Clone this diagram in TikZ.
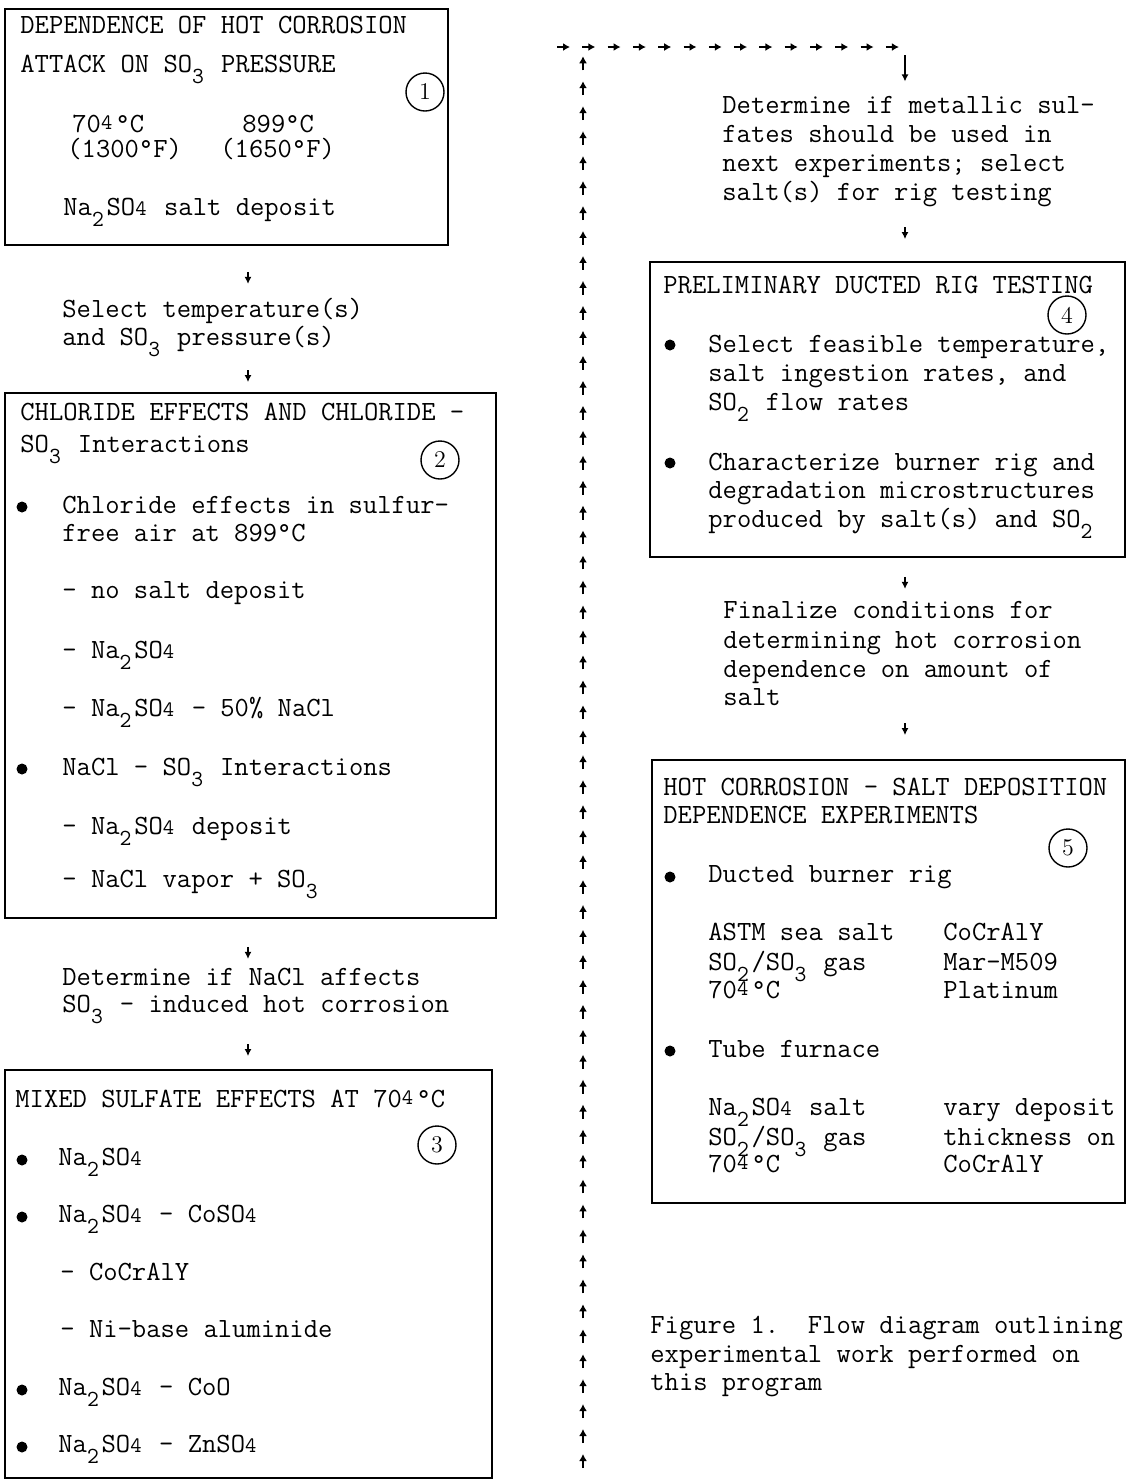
\documentclass[tikz,border=0pt]{standalone}
\usetikzlibrary{arrows.meta,fit,calc}
\newcommand\lowd[1]{\makebox[0.525em][l]{\raisebox{-5.5pt}{\fontsize{11.5}{11.5}\selectfont #1}}}
\newcommand\fsm{\makebox[0.525em][l]{\fontsize{11}{11}\selectfont 4}}
\newcommand\fup{\makebox[0.525em][l]{\raisebox{1.5pt}{\fontsize{11}{11}\selectfont 4}}}
\newcommand\dg{\textdegree}
\begin{document}
\begin{tikzpicture}[x=0.5pt,y=-0.5pt,
  txt/.style={anchor=base west, inner sep=0pt, font=\fontsize{13.9}{14.5}\selectfont\ttfamily},
  boxst/.style={draw, line width=0.9pt, inner sep=0pt},
  dotst/.style={circle, fill=black, inner sep=0pt, minimum size=5.5pt},
  numc/.style={circle, draw, line width=0.7pt, inner sep=0pt, minimum size=19pt, font=\fontsize{12}{12}\selectfont\rmfamily},
  smallarr/.style={line width=1pt, -{Latex[length=3.5pt,width=3.5pt]}},
  tinyarr/.style={line width=1.1pt, -{Latex[length=3.5pt,width=4pt]}}
]
\useasboundingbox (0,0) rectangle (1126,1480);
\clip (0,0) rectangle (1126,1480);

% ---------- boxes ----------
\node[boxst, fit={(5,9) (448,245)}] (b1) {};
\node[boxst, fit={(5,393) (496,918)}] (b2) {};
\node[boxst, fit={(5,1070) (492,1478)}] (b3) {};
\node[boxst, fit={(650,262) (1125,557)}] (b4) {};
\node[boxst, fit={(652,760) (1125,1203)}] (b5) {};

% ---------- box 1 ----------
\node[txt] (h1a) at (20,33) {DEPENDENCE OF HOT CORROSION};
\node[txt] (h1b) at (20,72) {ATTACK ON SO\lowd{3} PRESSURE};
\node[numc] (n1) at (425,92) {1};
\node[txt] (t1c) at (72,132) {70\fup\dg C};
\node[txt] (t1d) at (242,132) {899\dg C};
\node[txt] (t1e) at (67,157) {(1300\dg F)};
\node[txt] (t1f) at (220,157) {(1650\dg F)};
\node[txt] (t1g) at (63,215) {Na\lowd{2}SO\fsm{} salt deposit};

% ---------- between 1 and 2 ----------
\node[txt] (sA1) at (62,317) {Select temperature(s)};
\node[txt] (sA2) at (62,345) {and SO\lowd{3} pressure(s)};

% ---------- box 2 ----------
\node[txt] (h2a) at (20,420) {CHLORIDE EFFECTS AND CHLORIDE -};
\node[txt] (h2b) at (20,452) {SO\lowd{3} Interactions};
\node[numc] (n2) at (440,460) {2};
\node[dotst] (d2a) at (22,507) {};
\node[txt] (t2a) at (62,513) {Chloride effects in sulfur-};
\node[txt] (t2b) at (62,541) {free air at 899\dg C};
\node[txt] (t2c) at (62,598) {- no salt deposit};
\node[txt] (t2d) at (62,658) {- Na\lowd{2}SO\fsm};
\node[txt] (t2e) at (62,716) {- Na\lowd{2}SO\fsm{} - 50\% NaCl};
\node[dotst] (d2b) at (22,769) {};
\node[txt] (t2f) at (62,775) {NaCl - SO\lowd{3} Interactions};
\node[txt] (t2g) at (62,834) {- Na\lowd{2}SO\fsm{} deposit};
\node[txt] (t2h) at (62,887) {- NaCl vapor + SO\lowd{3}};

% ---------- between 2 and 3 ----------
\node[txt] (sB1) at (62,985) {Determine if NaCl affects};
\node[txt] (sB2) at (62,1012) {SO\lowd{3} - induced hot corrosion};

% ---------- box 3 ----------
\node[txt] (h3a) at (15,1107) {MIXED SULFATE EFFECTS AT 70\fup\dg C};
\node[numc] (n3) at (437,1145) {3};
\node[dotst] (d3a) at (22,1160) {};
\node[txt] (t3a) at (58,1165) {Na\lowd{2}SO\fsm};
\node[dotst] (d3b) at (22,1217) {};
\node[txt] (t3b) at (58,1222) {Na\lowd{2}SO\fsm{} - CoSO\fsm};
\node[txt] (t3c) at (60,1280) {- CoCrAlY};
\node[txt] (t3d) at (60,1337) {- Ni-base aluminide};
\node[dotst] (d3c) at (22,1390) {};
\node[txt] (t3e) at (58,1395) {Na\lowd{2}SO\fsm{} - CoO};
\node[dotst] (d3d) at (22,1447) {};
\node[txt] (t3f) at (58,1452) {Na\lowd{2}SO\fsm{} - ZnSO\fsm};

% ---------- right column text ----------
\node[txt] (sR1) at (722,113) {Determine if metallic sul-};
\node[txt] (sR2) at (722,142) {fates should be used in};
\node[txt] (sR3) at (722,171) {next experiments; select};
\node[txt] (sR4) at (722,200) {salt(s) for rig testing};

% ---------- box 4 ----------
\node[txt] (h4a) at (663,293) {PRELIMINARY DUCTED RIG TESTING};
\node[numc] (n4) at (1067,315) {4};
\node[dotst] (d4a) at (670,345) {};
\node[txt] (t4a) at (708,352) {Select feasible temperature,};
\node[txt] (t4b) at (708,381) {salt ingestion rates, and};
\node[txt] (t4c) at (708,410) {SO\lowd{2} flow rates};
\node[dotst] (d4b) at (670,463) {};
\node[txt] (t4d) at (708,470) {Characterize burner rig and};
\node[txt] (t4e) at (708,498) {degradation microstructures};
\node[txt] (t4f) at (708,527) {produced by salt(s) and SO\lowd{2}};

% ---------- between 4 and 5 ----------
\node[txt] (sF1) at (723,618) {Finalize conditions for};
\node[txt] (sF2) at (723,648) {determining hot corrosion};
\node[txt] (sF3) at (723,677) {dependence on amount of};
\node[txt] (sF4) at (723,705) {salt};

% ---------- box 5 ----------
\node[txt] (h5a) at (663,795) {HOT CORROSION - SALT DEPOSITION};
\node[txt] (h5b) at (663,823) {DEPENDENCE EXPERIMENTS};
\node[numc] (n5) at (1068,848) {5};
\node[dotst] (d5a) at (670,877) {};
\node[txt] (t5a) at (708,882) {Ducted burner rig};
\node[txt] (t5b) at (708,940) {ASTM sea salt};
\node[txt] (t5c) at (708,970) {SO\lowd{2}/SO\lowd{3} gas};
\node[txt] (t5d) at (708,998) {70\fup\dg C};
\node[txt] (t5e) at (943,940) {CoCrAlY};
\node[txt] (t5f) at (943,970) {Mar-M509};
\node[txt] (t5g) at (943,998) {Platinum};
\node[dotst] (d5b) at (670,1051) {};
\node[txt] (t5h) at (708,1057) {Tube furnace};
\node[txt] (t5i) at (708,1115) {Na\lowd{2}SO\fsm{} salt};
\node[txt] (t5j) at (708,1145) {SO\lowd{2}/SO\lowd{3} gas};
\node[txt] (t5k) at (708,1172) {70\fup\dg C};
\node[txt] (t5l) at (943,1115) {vary deposit};
\node[txt] (t5m) at (943,1145) {thickness on};
\node[txt] (t5n) at (943,1172) {CoCrAlY};

% ---------- caption ----------
\node[txt] (c1) at (650,1333) {Figure 1.\ \ Flow diagram outlining};
\node[txt] (c2) at (650,1362) {experimental work performed on};
\node[txt] (c3) at (650,1390) {this program};

% ---------- short arrows ----------
\coordinate (cL) at (248,0);
\coordinate (cR) at (905,0);
\draw[smallarr] ($(b1.south -| cL)+(0,26)$) -- ($(b1.south -| cL)+(0,38)$);
\draw[smallarr] ($(b2.north -| cL)+(0,-22)$) -- ($(b2.north -| cL)+(0,-10)$);
\draw[smallarr] ($(b2.south -| cL)+(0,28)$) -- ($(b2.south -| cL)+(0,40)$);
\draw[smallarr] ($(b3.north -| cL)+(0,-25)$) -- ($(b3.north -| cL)+(0,-13)$);
\draw[smallarr] ($(b4.north -| cR)+(0,-34)$) -- ($(b4.north -| cR)+(0,-22)$);
\draw[smallarr] ($(b4.south -| cR)+(0,19)$) -- ($(b4.south -| cR)+(0,31)$);
\draw[smallarr] ($(b5.north -| cR)+(0,-36)$) -- ($(b5.north -| cR)+(0,-24)$);

% ---------- dashed return loop ----------
\coordinate (loopBot) at (583,1468);
\coordinate (loopTop) at (557,47);
\foreach \i in {0,...,56}
  \draw[tinyarr] ($(loopBot)+(0,-\i*24.96)$) -- ++(0,-14);
\foreach \i in {0,...,13}
  \draw[tinyarr] ($(loopTop)+(\i*25.3,0)$) -- ++(13,0);
\draw[smallarr] ($(sR1.north -| cR)+(0,-40)$) -- ($(sR1.north -| cR)+(0,-14)$);
\end{tikzpicture}
\end{document}
